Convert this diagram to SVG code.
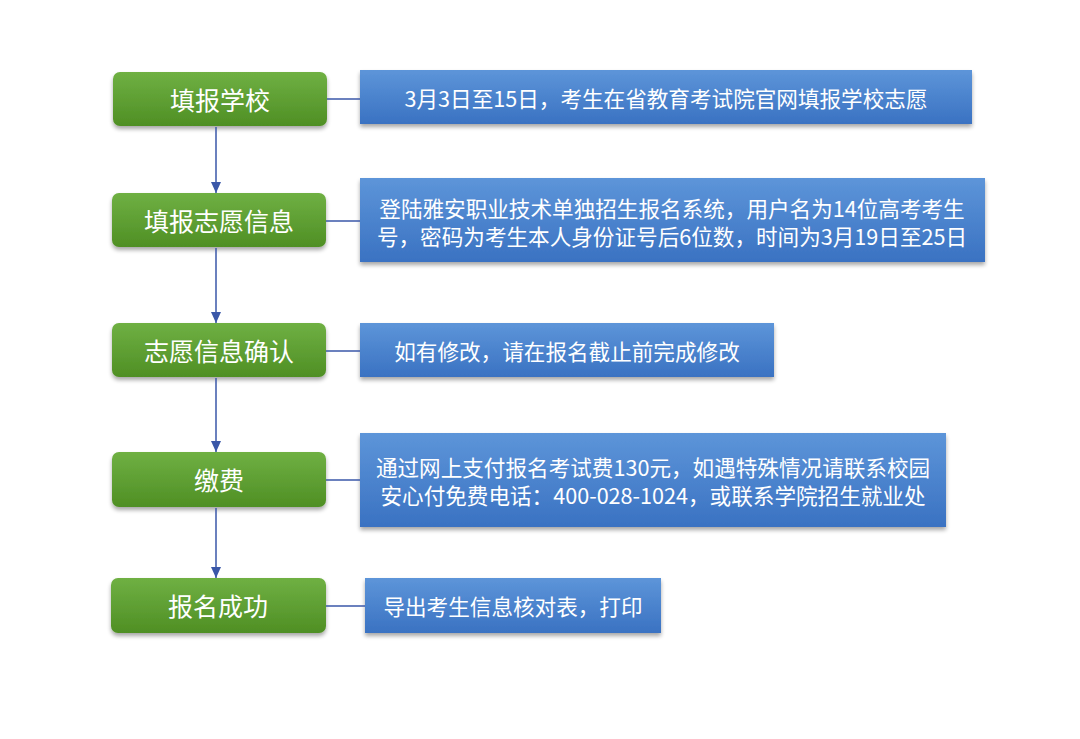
<svg xmlns="http://www.w3.org/2000/svg" width="1080" height="739" viewBox="0 0 1080 739">
<defs>
<linearGradient id="gg" x1="0" y1="0" x2="0" y2="1">
<stop offset="0" stop-color="#6fb043"/><stop offset="1" stop-color="#4f8f24"/>
</linearGradient>
<linearGradient id="bg" x1="0" y1="0" x2="0" y2="1">
<stop offset="0" stop-color="#5d95d9"/><stop offset="1" stop-color="#3a72c2"/>
</linearGradient>
<filter id="sh" x="-10%" y="-20%" width="120%" height="150%">
<feGaussianBlur in="SourceAlpha" stdDeviation="2"/>
<feOffset dx="0" dy="3"/>
<feComponentTransfer><feFuncA type="linear" slope="0.35"/></feComponentTransfer>
<feMerge><feMergeNode/><feMergeNode in="SourceGraphic"/></feMerge>
</filter>
<marker id="ah" markerWidth="11" markerHeight="10" refX="11" refY="5" orient="auto" markerUnits="userSpaceOnUse" viewBox="0 0 11 10">
<path d="M0,0 L11,5 L0,10 Z" fill="#3a57a8"/>
</marker>
</defs>
<style>
.g{fill:url(#gg);filter:url(#sh)}
.b{fill:url(#bg);filter:url(#sh)}
.gt{font-family:"Noto Sans CJK SC","Noto Sans",sans-serif;font-size:25px;fill:#fff;text-anchor:middle;dominant-baseline:central}
.bt{font-family:"Noto Sans CJK SC","Noto Sans",sans-serif;font-size:21.6px;fill:#fff;text-anchor:middle;dominant-baseline:central}
.c{stroke:#3a57a8;stroke-width:1.5;fill:none}
</style>
<rect width="1080" height="739" fill="#fff"/>
<g id="s1"><rect class="g" x="113" y="72" width="214" height="54" rx="7"/><text class="gt" x="220" y="99">填报学校</text></g>
<g id="s2"><rect class="g" x="112" y="193" width="214" height="54" rx="7"/><text class="gt" x="219" y="220">填报志愿信息</text></g>
<g id="s3"><rect class="g" x="112" y="323" width="214" height="54" rx="7"/><text class="gt" x="219" y="350">志愿信息确认</text></g>
<g id="s4"><rect class="g" x="112" y="452" width="214" height="55" rx="7"/><text class="gt" x="219" y="479">缴费</text></g>
<g id="s5"><rect class="g" x="111" y="578" width="215" height="55" rx="7"/><text class="gt" x="218" y="605">报名成功</text></g>
<g id="d1"><rect class="b" x="360" y="70" width="612" height="54"/><text class="bt" x="666" y="97">3月3日至15日，考生在省教育考试院官网填报学校志愿</text></g>
<g id="d2"><rect class="b" x="360" y="178" width="625" height="84"/><text class="bt" x="672" y="207">登陆雅安职业技术单独招生报名系统，用户名为14位高考考生</text><text class="bt" x="672" y="235">号，密码为考生本人身份证号后6位数，时间为3月19日至25日</text></g>
<g id="d3"><rect class="b" x="360" y="323" width="414" height="54"/><text class="bt" x="567" y="350">如有修改，请在报名截止前完成修改</text></g>
<g id="d4"><rect class="b" x="360" y="433" width="586" height="94"/><text class="bt" x="653" y="466">通过网上支付报名考试费130元，如遇特殊情况请联系校园</text><text class="bt" x="653" y="494">安心付免费电话：400-028-1024，或联系学院招生就业处</text></g>
<g id="d5"><rect class="b" x="365" y="578" width="296" height="55"/><text class="bt" x="513" y="605">导出考生信息核对表，打印</text></g>
<g id="connectors">
<line class="c" x1="216" y1="127" x2="216" y2="193" marker-end="url(#ah)"/>
<line class="c" x1="216" y1="248" x2="216" y2="323" marker-end="url(#ah)"/>
<line class="c" x1="216" y1="378" x2="216" y2="452" marker-end="url(#ah)"/>
<line class="c" x1="216" y1="508" x2="216" y2="578" marker-end="url(#ah)"/>
<line class="c" x1="327" y1="99" x2="360" y2="99"/>
<line class="c" x1="326" y1="221" x2="360" y2="221"/>
<line class="c" x1="326" y1="351" x2="360" y2="351"/>
<line class="c" x1="326" y1="480" x2="360" y2="480"/>
<line class="c" x1="326" y1="606" x2="365" y2="606"/>
</g>
</svg>
